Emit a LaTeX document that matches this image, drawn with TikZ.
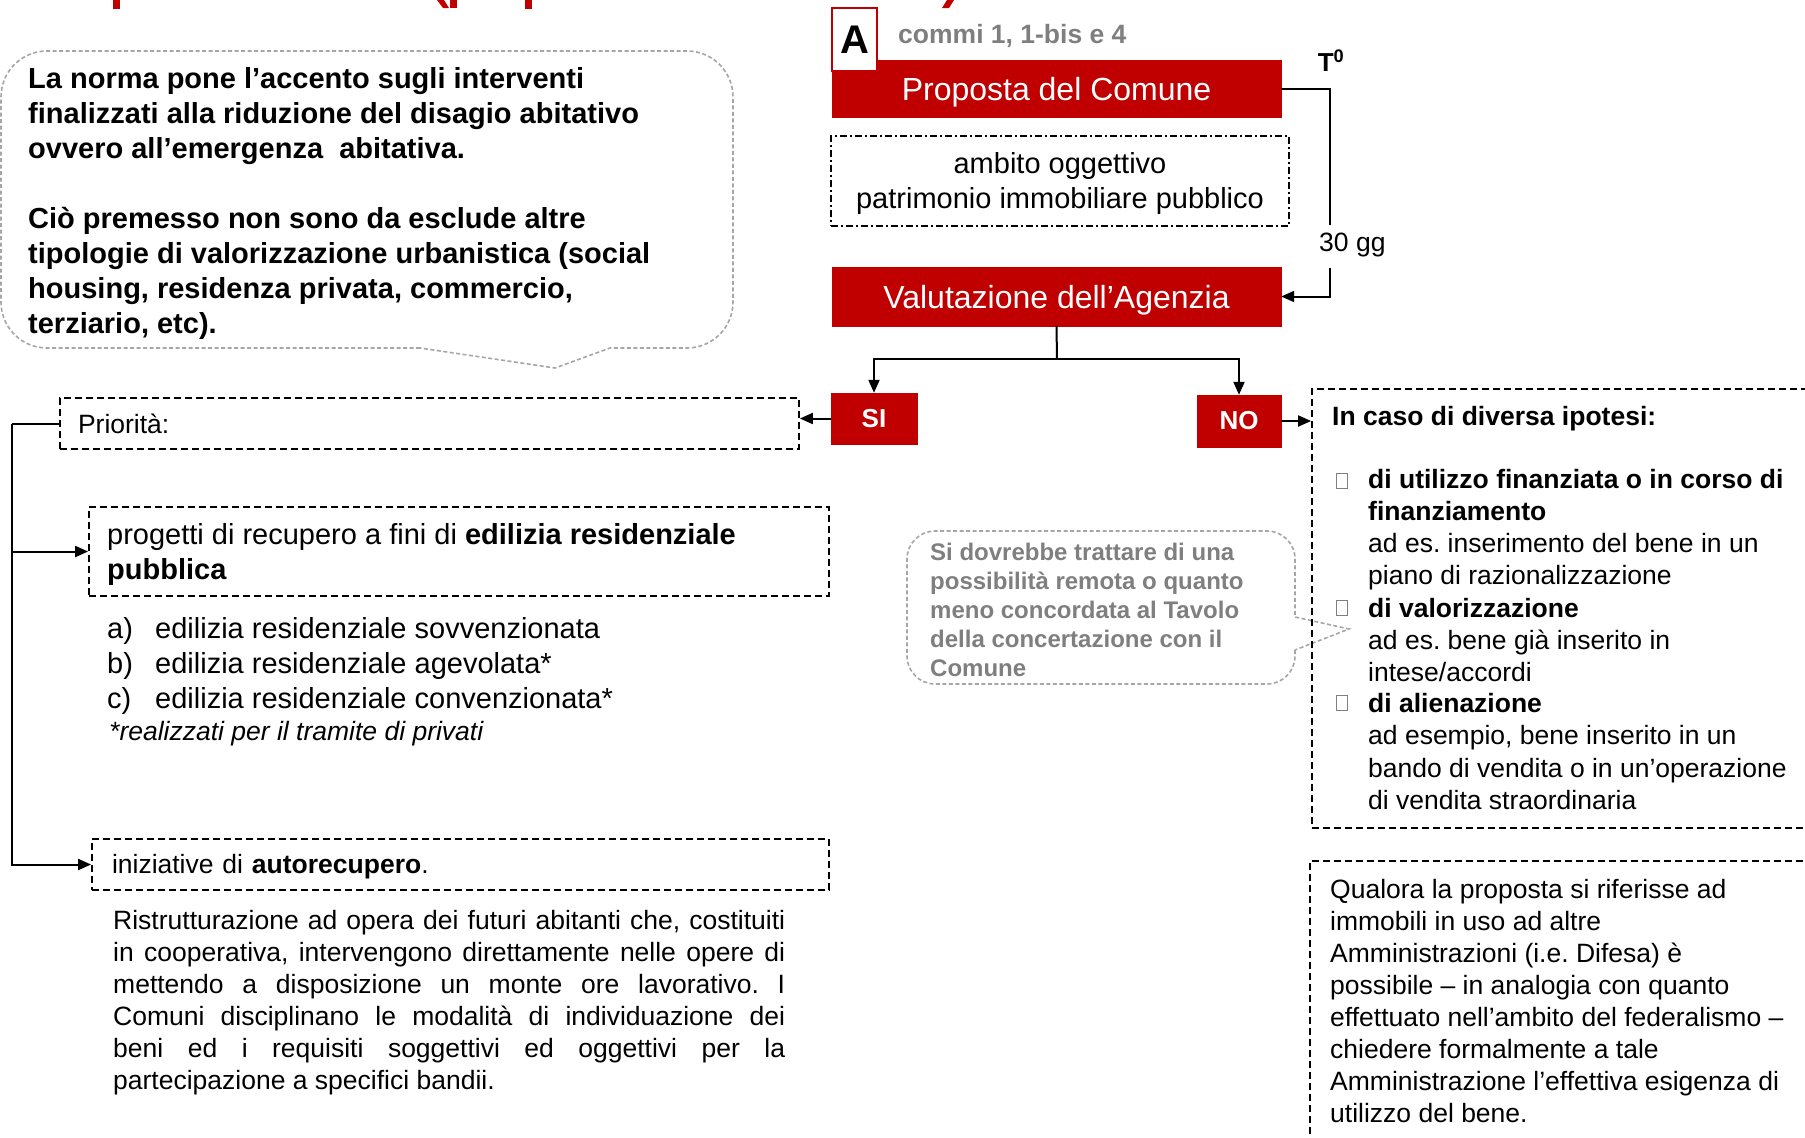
\documentclass[tikz,border=0pt]{standalone}
\usepackage{fontspec}
\setmainfont{Liberation Sans}
\usetikzlibrary{arrows.meta}
\definecolor{rosso}{HTML}{C00000}
\definecolor{grigiotxt}{HTML}{7F7F7F}
\definecolor{grigiobordo}{HTML}{A6A6A6}
\newcommand{\fs}[2]{\fontsize{#1pt}{#2pt}\selectfont}
\newcommand{\giu}[2]{\raisebox{-#1pt}[\height][\depth]{#2}}
\frenchspacing
\begin{document}
\begin{tikzpicture}[x=1pt,y=-1pt,
  redbox/.style={fill=rosso, draw=rosso, text=white, inner sep=0pt},
  dbox/.style={draw=black, line width=1.8pt, dash pattern=on 7pt off 4pt},
  ddbox/.style={draw=black, line width=1.8pt, dash pattern=on 7pt off 3pt on 2pt off 3pt},
  callout/.style={draw=grigiobordo, line width=1.6pt, dash pattern=on 4pt off 2.5pt},
  conn/.style={line width=2pt},
  arr/.style={line width=2pt, -{Triangle[length=13pt,width=11pt]}},
  txt/.style={inner sep=0pt, align=left},
  bul/.style={draw=gray, line width=0.8pt, minimum width=11pt, minimum height=15pt, inner sep=0pt},
]
\clip (0,0) rectangle (1805,1138);
\fill[white] (0,0) rectangle (1805,1138);

% clipped title fragments
\fill[rosso] (113,0) rectangle (120,9);
\fill[rosso] (437,0) -- (444,0) -- (449,8) -- (443,8) -- cycle;
\fill[rosso] (450,0) rectangle (457,8);
\fill[rosso] (525,0) rectangle (532,9);
\fill[rosso] (947,0) -- (954,0) -- (949,8) -- (942,8) -- cycle;

% left callout
\draw[callout] (420,348) -- (47,348) arc[start angle=-90, end angle=-180, radius=46pt]
  -- (1,97) arc[start angle=180, end angle=90, radius=46pt]
  -- (687,51) arc[start angle=90, end angle=0, radius=46pt]
  -- (733,302) arc[start angle=0, end angle=-90, radius=46pt]
  -- (610,348) -- (555,368) -- cycle;
\node[txt, anchor=west, font=\bfseries\fs{29}{35}] (intro) at (28,203)
 {La norma pone l’accento sugli interventi\\
  finalizzati alla riduzione del disagio abitativo\\
  ovvero all’emergenza\ \ abitativa.\\
  \mbox{}\\
  Ciò premesso non sono da esclude altre\\
  tipologie di valorizzazione urbanistica (social\\
  housing, residenza privata, commercio,\\
  terziario, etc).};

% top flow
\node[redbox, minimum width=449pt, minimum height=57pt, font=\fs{32}{38}] (prop) at (1056.5,88.5) {\giu{3.5}{Proposta del Comune}};
\node[draw=rosso, fill=white, line width=2pt, minimum width=45pt, minimum height=63pt, inner sep=0pt, font=\bfseries\fs{40}{48}] (A) at (854.5,39.5) {A};
\node[txt, anchor=west, text=grigiotxt, font=\bfseries\fs{26.5}{32}] (commi) at (898,36) {commi 1, 1-bis e 4};
\node[txt, font=\bfseries\fs{26}{30}] (T0) at (1331,61) {T\textsuperscript{0}};
\node[ddbox, minimum width=458pt, minimum height=90pt] (amb) at (1060,181) {};
\node[inner sep=0pt, align=center, font=\fs{29}{35}] (ambt) at (1060,183.5) {ambito oggettivo\\patrimonio immobiliare pubblico};
\node[redbox, minimum width=449pt, minimum height=59pt, font=\fs{32}{38}] (val) at (1056.5,296.5) {\giu{3.5}{Valutazione dell’Agenzia}};
\node[txt, anchor=west, font=\fs{26.5}{32}] (gg) at (1319,245) {30 gg};
\coordinate (g1) at (1330,225);
\coordinate (g2) at (1330,268);
\draw[conn] (prop.east) -| (g1);
\draw[arr] (g2) |- (val.east);

\node[redbox, minimum width=86pt, minimum height=51pt, font=\bfseries\fs{26}{30}] (si) at (874,418.5) {SI};
\node[redbox, minimum width=84pt, minimum height=52pt, font=\bfseries\fs{26}{30}] (no) at (1239,421) {NO};
\coordinate (split) at (1057,359);
\draw[conn] (val.south) -- (split);
\draw[arr] (split) -| (si.north);
\draw[arr] (split) -| (no.north);

% left branch
\node[dbox, minimum width=739pt, minimum height=51pt, inner xsep=18pt, text width=703pt, align=left, font=\fs{26.5}{32}] (prio) at (429.5,423.5) {Priorità:};
\draw[arr] (si.west) -- (prio.east |- si.west);
\node[dbox, minimum width=740pt, minimum height=89pt] (prog) at (459,551.5) {};
\node[txt, anchor=west, font=\fs{29}{35}] (progt) at (107,554)
 {progetti di recupero a fini di \textbf{edilizia residenziale}\\\textbf{pubblica}};
\node[txt, anchor=west, font=\fs{29}{35}] (lista) at (107,666)
 {\makebox[48pt][l]{a)}edilizia residenziale sovvenzionata\\
  \makebox[48pt][l]{b)}edilizia residenziale agevolata*\\
  \makebox[48pt][l]{c)}edilizia residenziale convenzionata*};
\node[txt, anchor=west, font=\itshape\fs{26.5}{32}] (nota) at (109,734) {*realizzati per il tramite di privati};
\node[dbox, minimum width=737pt, minimum height=51pt, inner xsep=20pt, text width=697pt, align=left, font=\fs{26.5}{32}] (auto) at (460.5,864.5)
 {\giu{2.3}{iniziative di \textbf{autorecupero}.}};
\coordinate (lb) at (12,423.5);
\draw[conn] (prio.west) -- (lb);
\draw[arr] (lb) |- (prog.west);
\draw[arr] (lb) |- (auto.west);
\node[txt, anchor=west, font=\fs{26.5}{32}] (par) at (113,1003)
 {\makebox[672pt][s]{Ristrutturazione ad opera dei futuri abitanti che, costituiti}\\
  \makebox[672pt][s]{in cooperativa, intervengono direttamente nelle opere di}\\
  \makebox[672pt][s]{mettendo a disposizione un monte ore lavorativo. I}\\
  \makebox[672pt][s]{Comuni disciplinano le modalità di individuazione dei}\\
  \makebox[672pt][s]{beni ed i requisiti soggettivi ed oggettivi per la}\\
  partecipazione a specifici bandii.};

% middle callout
\draw[callout] (1295,650) -- (1295,656) arc[start angle=0, end angle=-90, radius=28pt]
  -- (935,684) arc[start angle=-90, end angle=-180, radius=28pt]
  -- (907,559) arc[start angle=180, end angle=90, radius=28pt]
  -- (1267,531) arc[start angle=90, end angle=0, radius=28pt]
  -- (1295,617) -- (1349,629) -- cycle;
\node[txt, anchor=west, text=grigiotxt, font=\bfseries\fs{24}{29}] (nota2) at (930,610)
 {Si dovrebbe trattare di una\\possibilità remota o quanto\\meno concordata al Tavolo\\della concertazione con il\\Comune};

% right branch
\node[dbox, minimum width=518pt, minimum height=439pt] (rbox) at (1571,608.5) {};
\draw[arr] (no.east) -- (rbox.west |- no.east);
\node[txt, anchor=west, font=\bfseries\fs{26.5}{32}] (hd) at (1332,419) {In caso di diversa ipotesi:};
\node[bul] (b1) at (1342,481) {};
\node[bul] (b2) at (1342,608) {};
\node[bul] (b3) at (1342,703) {};
\node[txt, anchor=west, font=\fs{26.5}{32.1}] (it1) at (1368,529.5)
 {\textbf{di utilizzo finanziata o in corso di}\\\textbf{finanziamento}\\ad es. inserimento del bene in un\\piano di razionalizzazione};
\node[txt, anchor=west, font=\fs{26.5}{32.1}] (it2) at (1368,640)
 {\textbf{di valorizzazione}\\ad es. bene già inserito in\\intese/accordi};
\node[txt, anchor=west, font=\fs{26.5}{32.1}] (it3) at (1368,751.5)
 {\textbf{di alienazione}\\ad esempio, bene inserito in un\\bando di vendita o in un’operazione\\di vendita straordinaria};

\node[dbox, minimum width=520pt, minimum height=300pt] (qbox) at (1570,1011) {};
\node[txt, anchor=west, font=\fs{26.5}{32}] (qual) at (1330,1001)
 {Qualora la proposta si riferisse ad\\immobili in uso ad altre\\Amministrazioni (i.e. Difesa) è\\possibile – in analogia con quanto\\effettuato nell’ambito del federalismo –\\chiedere formalmente a tale\\Amministrazione l’effettiva esigenza di\\utilizzo del bene.};
\end{tikzpicture}
\end{document}
